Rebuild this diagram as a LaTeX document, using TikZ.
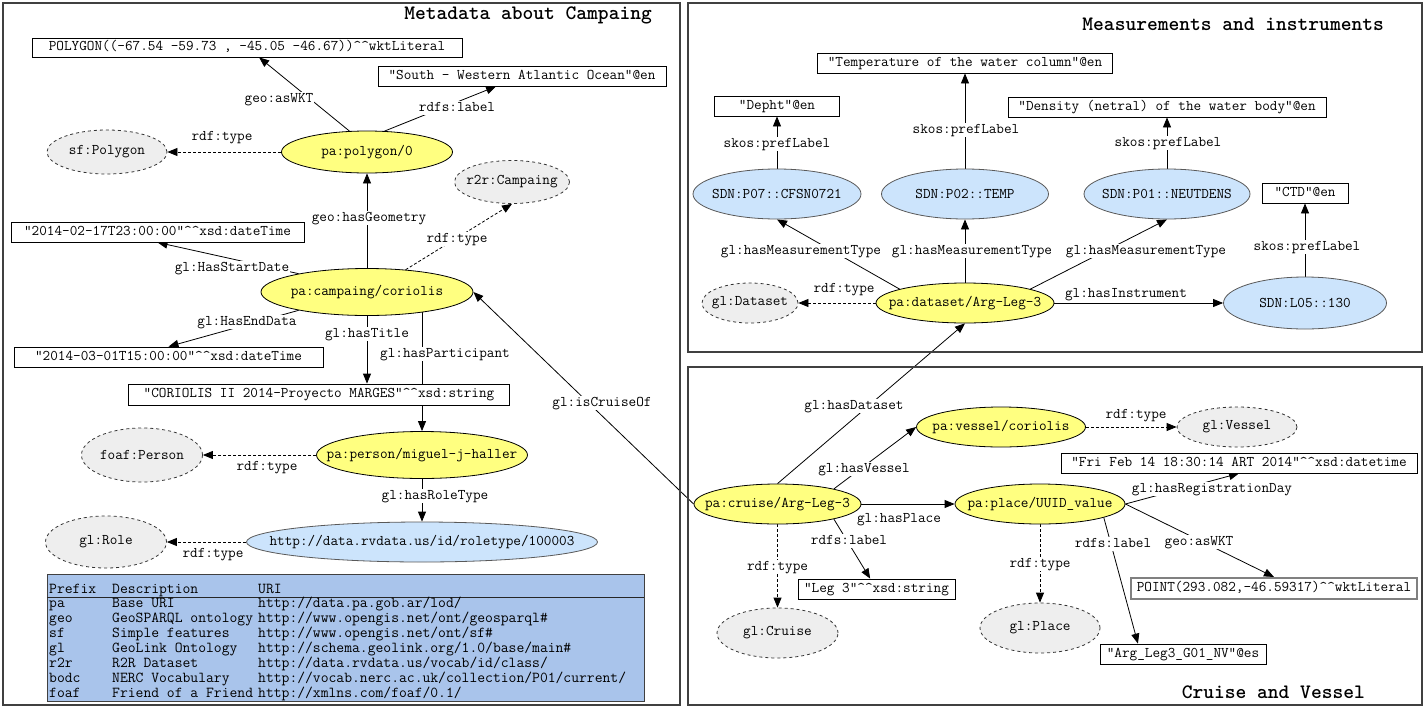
\documentclass[tikz,border=0pt]{standalone}
\usepackage{tikz}
\usetikzlibrary{arrows.meta,shapes.geometric,backgrounds}
\definecolor{subjyellow}{HTML}{FFFF80}
\definecolor{vocblue}{HTML}{CCE4FC}
\definecolor{clsgray}{HTML}{EEEEEE}
\definecolor{tblblue}{HTML}{A9C4EB}
\newcommand\rdffont{\ttfamily\fontsize{14.8}{17}\selectfont}
\newcommand\tblfont{\ttfamily\fontsize{15.2}{17}\selectfont}
\newcommand\headfont{\ttfamily\bfseries\fontsize{20.5}{24}\selectfont}
\newcommand\hathat{\textasciicircum\textasciicircum}
\newcommand\tight[1]{\makebox[0pt]{#1}}
\tikzset{
 subj/.style={ellipse,draw,line width=.8pt,fill=subjyellow,inner sep=0,font=\rdffont},
 voc/.style={ellipse,draw=black!65,line width=.8pt,fill=vocblue,inner sep=0,font=\rdffont},
 cls/.style={ellipse,draw=black!80,dashed,line width=.8pt,fill=clsgray,inner sep=0,font=\rdffont},
 lit/.style={rectangle,draw,line width=.8pt,fill=white,inner sep=0,text height=9pt,text depth=3pt,font=\rdffont},
 sz/.style 2 args={minimum width=#1pt,minimum height=#2pt},
 prop/.style={fill=white,inner sep=1pt,text height=9pt,text depth=3pt,font=\rdffont},
 rel/.style={-{Triangle[length=10pt,width=8pt]},line width=.8pt},
 typ/.style={rel,dash pattern=on 3pt off 2pt},
 panel/.style={draw=black!75,line width=2pt},
 heading/.style={font=\headfont,anchor=east,inner sep=0},
 cell/.style={anchor=base west,inner sep=0,font=\tblfont}
}
\begin{document}
\begin{tikzpicture}[x=1pt,y=-1pt]
\path[use as bounding box] (0,0) rectangle (1424,707);
\draw[panel] (3,3) rectangle (680,705);
\draw[panel] (688,3) rectangle (1422,352);
\draw[panel] (688,367) rectangle (1422,705);
\node[heading] (t-meta) at (652,15) {Metadata about Campaing};
\node[heading] (t-meas) at (1384,24) {Measurements and instruments};
\node[heading] (t-cruise) at (1365,692) {Cruise and Vessel};
% campaign
\node[lit,sz={430}{19}] (wkt) at (247,47.5) {POLYGON((-67.54 -59.73 , -45.05 -46.67))\hathat wktLiteral};
\node[lit,sz={288}{20}] (south) at (522,76) {"South - Western Atlantic Ocean"@en};
\node[cls,sz={120}{44}] (sfpoly) at (107,152) {\tight{sf:Polygon}};
\node[subj,sz={171}{42}] (poly) at (367,152) {\tight{pa:polygon/0}};
\node[cls,sz={115}{43}] (r2r) at (512,182) {\tight{r2r:Campaing}};
\node[lit,sz={293}{20}] (startdate) at (157.5,232) {"2014-02-17T23:00:00"\hathat xsd:dateTime};
\node[subj,sz={212}{47}] (coriolis) at (367,292) {\tight{pa:campaing/coriolis}};
\node[lit,sz={309}{20}] (enddate) at (168.5,357) {"2014-03-01T15:00:00"\hathat xsd:dateTime};
\node[lit,sz={381}{21}] (ttl) at (319,394.5) {"CORIOLIS II 2014-Proyecto MARGES"\hathat xsd:string};
\node[subj,sz={211}{47}] (person) at (422,455) {\tight{pa:person/miguel-j-haller}};
\node[cls,sz={121}{54}] (foaf) at (142,455) {\tight{foaf:Person}};
\node[voc,sz={351}{40}] (url) at (422,542) {\tight{http://data.rvdata.us/id/roletype/100003}};
\node[cls,sz={121}{52}] (role) at (106,542) {\tight{gl:Role}};
% measurements
\node[lit,sz={295}{20}] (temp) at (965,63) {"Temperature of the water column"@en};
\node[lit,sz={125}{20}] (depht) at (777,106) {"Depht"@en};
\node[lit,sz={318}{20}] (density) at (1167,107) {"Density (netral) of the water body"@en};
\node[voc,sz={168}{50}] (p07) at (777,194) {\tight{SDN:P07::CFSN0721}};
\node[voc,sz={167}{50}] (p02) at (965,194) {\tight{SDN:P02::TEMP}};
\node[voc,sz={166}{50}] (p01) at (1167,194) {\tight{SDN:P01::NEUTDENS}};
\node[lit,sz={86}{20}] (ctd) at (1305,193) {"CTD"@en};
\node[cls,sz={96}{40}] (glds) at (750,303) {\tight{gl:Dataset}};
\node[subj,sz={178}{40}] (dataset) at (965,303) {\tight{pa:dataset/Arg-Leg-3}};
\node[voc,sz={163}{52}] (l05) at (1305,303) {\tight{SDN:L05::130}};
% cruise
\node[subj,sz={169}{40}] (vessel) at (1001,427) {\tight{pa:vessel/coriolis}};
\node[cls,sz={120}{40}] (glvessel) at (1237,427) {\tight{gl:Vessel}};
\node[lit,sz={356}{20}] (fri) at (1239,463) {"Fri Feb 14 18:30:14 ART 2014"\hathat xsd:datetime};
\node[subj,sz={167}{40}] (cruise) at (777.5,504) {\tight{pa:cruise/Arg-Leg-3}};
\node[subj,sz={170}{40}] (place) at (1040,504) {\tight{pa:place/UUID\_value}};
\node[lit,sz={157}{20}] (leg3) at (876.5,589) {"Leg 3"\hathat xsd:string};
\node[lit,draw=black!50,line width=2pt,sz={286}{21}] (point) at (1274,588.5) {POINT(293.082,-46.59317)\hathat wktLiteral};
\node[cls,sz={121}{50}] (glcruise) at (777.5,633) {\tight{gl:Cruise}};
\node[cls,sz={120}{50}] (glplace) at (1040,628) {\tight{gl:Place}};
\node[lit,sz={166}{20}] (arg) at (1183,654) {"Arg\_Leg3\_G01\_NV"@es};
\begin{pgfonlayer}{background}
\draw[rel] (poly.130) -- (wkt);
\draw[rel] (poly.50) -- (south);
\draw[typ] (poly) -- (sfpoly);
\draw[rel] (coriolis) -- (poly);
\draw[typ] (coriolis.30) -- (r2r.south);
\draw[rel] (coriolis.165) -- (startdate.south);
\draw[rel] (coriolis.195) -- (enddate.north);
\draw[rel] (coriolis) -- (coriolis |- ttl.north);
\draw[rel] (person |- coriolis) -- (person);
\draw[typ] (person) -- (foaf);
\draw[rel] (person) -- (url);
\draw[typ] (url) -- (role);
\draw[rel] (cruise.west) -- (coriolis.east);
\draw[rel] (p07) -- (depht);
\draw[rel] (p02) -- (temp);
\draw[rel] (p01) -- (density);
\draw[rel] (l05) -- (ctd);
\draw[rel] (dataset.168) -- (p07.south);
\draw[rel] (dataset) -- (p02);
\draw[rel] (dataset.12) -- (p01.south);
\draw[typ] (dataset) -- (glds);
\draw[rel] (dataset) -- (l05);
\draw[rel] (cruise.north) -- (dataset.south);
\draw[rel] (cruise.15) -- (vessel.west);
\draw[rel] (cruise) -- (place);
\draw[rel] (cruise.-15) -- (leg3);
\draw[typ] (cruise) -- (glcruise);
\draw[typ] (vessel) -- (glvessel);
\draw[typ] (place) -- (glplace);
\draw[rel] (place.-12) -- (arg.167);
\draw[rel] (place.east) -- (fri.south);
\draw[rel] (place.east) -- (point.north);
\end{pgfonlayer}
% edge labels
\node[prop] (l-aswkt) at (279,99) {geo:asWKT};
\node[prop] (l-plabel) at (457,108) {rdfs:label};
\node[prop] (l-ptype) at (222,137) {rdf:type};
\node[prop] (l-geom) at (369,218) {geo:hasGeometry};
\node[prop] (l-ctype) at (457,239) {rdf:type};
\node[prop] (l-start) at (232,268) {gl:HasStartDate};
\node[prop] (l-end) at (247,322) {gl:HasEndData};
\node[prop] (l-title) at (367,334) {gl:hasTitle};
\node[prop] (l-part) at (445,354) {gl:hasParticipant};
\node[prop] (l-ftype) at (267,467) {rdf:type};
\node[prop] (l-role) at (435,496) {gl:hasRoleType};
\node[prop] (l-rtype) at (213,554) {rdf:type};
\node[prop] (l-cruiseof) at (602,403) {gl:isCruiseOf};
\node[prop] (l-pref7) at (777,144) {skos:prefLabel};
\node[prop] (l-pref2) at (966,130) {skos:prefLabel};
\node[prop] (l-pref1) at (1168,143) {skos:prefLabel};
\node[prop] (l-prefi) at (1307,247) {skos:prefLabel};
\node[prop] (l-mt7) at (801,251) {gl:hasMeasurementType};
\node[prop] (l-mt2) at (972,251) {gl:hasMeasurementType};
\node[prop] (l-mt1) at (1146,251) {gl:hasMeasurementType};
\node[prop] (l-dtype) at (844,289) {rdf:type};
\node[prop] (l-instr) at (1126,294) {gl:hasInstrument};
\node[prop] (l-dataset) at (854,406) {gl:hasDataset};
\node[prop] (l-vtype) at (1136,415) {rdf:type};
\node[prop] (l-vessel) at (864,469) {gl:hasVessel};
\node[prop] (l-reg) at (1212,489) {gl:hasRegistrationDay};
\node[prop] (l-place) at (899,519) {gl:hasPlace};
\node[prop] (l-clabel) at (849,541) {rdfs:label};
\node[prop] (l-pllabel) at (1113,544) {rdfs:label};
\node[prop] (l-plwkt) at (1199,542) {geo:asWKT};
\node[prop] (l-crtype) at (777.5,567) {rdf:type};
\node[prop] (l-pltype) at (1040,564) {rdf:type};
% prefix table
\node[draw=black!75,line width=1pt,fill=tblblue,anchor=north west,sz={597}{127}] (prefixes) at (47,574) {};
\draw[black!85,line width=1pt] (prefixes.north west) ++(0,23) -- ++(597,0);
\node[cell] (h-prefix) at (49,593) {Prefix};
\node[cell] (h-desc) at (112,593) {Description};
\node[cell] (h-uri) at (258,593) {URI};
\foreach \pf/\ds/\ur [count=\r] in {{pa}/{Base URI}/{http://data.pa.gob.ar/lod/},%
{geo}/{GeoSPARQL ontology}/{http://www.opengis.net/ont/geosparql\#},%
{sf}/{Simple features}/{http://www.opengis.net/ont/sf\#},%
{gl}/{GeoLink Ontology}/{http://schema.geolink.org/1.0/base/main\#},%
{r2r}/{R2R Dataset}/{http://data.rvdata.us/vocab/id/class/},%
{bodc}/{NERC Vocabulary}/{http://vocab.nerc.ac.uk/collection/P01/current/},%
{foaf}/{Friend of a Friend}/{http://xmlns.com/foaf/0.1/}}{
\node[cell] (pf-\r) at (49,{592+15*\r}) {\pf};
\node[cell] (ds-\r) at (112,{592+15*\r}) {\ds};
\node[cell] (ur-\r) at (258,{592+15*\r}) {\ur};
}
\end{tikzpicture}
\end{document}
